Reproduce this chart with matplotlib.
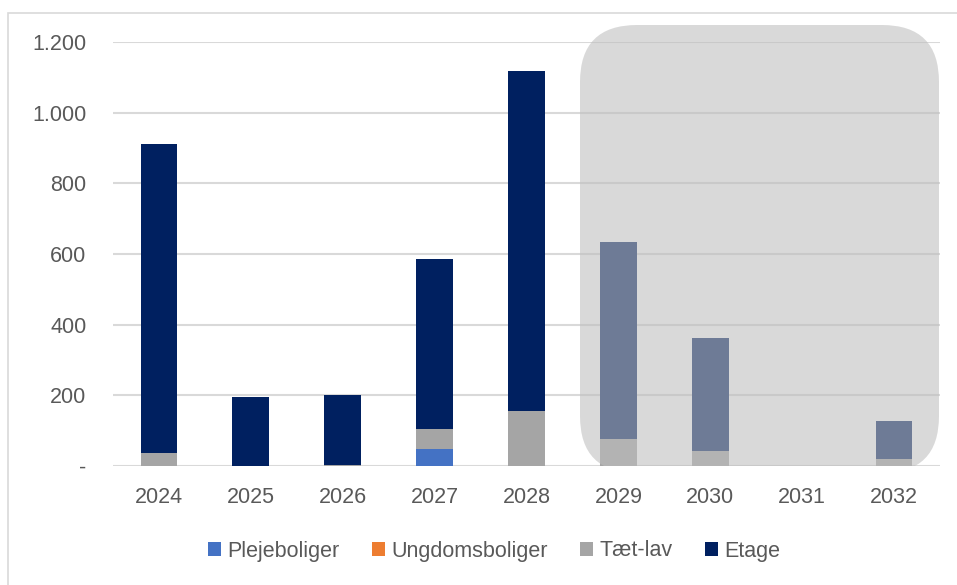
import matplotlib.pyplot as plt
import numpy as np
from matplotlib.patches import FancyBboxPatch, Rectangle
from matplotlib.transforms import IdentityTransform, Bbox

years = ["2024", "2025", "2026", "2027", "2028", "2029", "2030", "2031", "2032"]
pleje = [0, 0, 0, 47, 0, 0, 0, 0, 0]
ungdom = [0, 0, 0, 0, 0, 0, 0, 0, 0]
taet = [37, 0, 3, 57, 156, 76, 43, 0, 19]
etage = [873, 195, 197, 481, 961, 558, 319, 0, 107]

yticks = [0, 200, 400, 600, 800, 1000, 1200]
ylabels = ["-", "200", "400", "600", "800", "1.000", "1.200"]

plt.rcParams['font.family'] = ['Liberation Sans', 'DejaVu Sans']
txt = '#595959'
W, H = 957, 585

fig = plt.figure(figsize=(W / 100, H / 100), dpi=100)
ax = fig.add_axes([113 / W, (H - 466) / H, 827 / W, 424 / H])

x = np.arange(len(years))
bw = 0.40
b = np.zeros(len(years))
for vals, col, lab in [(pleje, '#4472C4', 'Plejeboliger'),
                       (ungdom, '#ED7D31', 'Ungdomsboliger'),
                       (taet, '#A5A5A5', 'Tæt-lav'),
                       (etage, '#002060', 'Etage')]:
    ax.bar(x, vals, bw, bottom=b, color=col, label=lab, zorder=3)
    b += np.array(vals)

ax.set_xlim(-0.5, len(years) - 0.5)
ax.set_ylim(0, 1200)
ax.set_yticks(yticks)
ax.set_yticklabels(ylabels)
ax.set_xticks(x)
ax.set_xticklabels(years)
ax.tick_params(length=0, labelsize=15.5, labelcolor=txt)
ax.tick_params(axis='y', pad=19)
ax.tick_params(axis='x', pad=15)
ax.grid(axis='y', color='#D9D9D9', lw=1.5, zorder=0)
for s in ax.spines.values():
    s.set_visible(False)

# afrundet grå felt over de sidste år
box = FancyBboxPatch((580, H - 473), 359, 448, boxstyle="round,pad=0,rounding_size=57",
                     transform=IdentityTransform(), facecolor=(190/255, 190/255, 190/255),
                     alpha=0.58, edgecolor='none', zorder=5)
box.set_clip_box(Bbox([[0, H - 466], [W, H]]))
fig.add_artist(box)

# ramme
frame = Rectangle((8, -10), W + 20, H - 13 + 10, transform=IdentityTransform(),
                  fill=False, edgecolor='#D9D9D9', lw=1.2, zorder=6)
fig.add_artist(frame)

handles, labels = ax.get_legend_handles_labels()
fig.legend(handles, labels, loc='center', bbox_to_anchor=(494 / W, 1 - 551 / H), ncol=4,
           frameon=False, fontsize=15.5, labelcolor=txt, handlelength=0.6, handleheight=0.6,
           handletextpad=0.3, columnspacing=1.5)

fig.savefig('out.png', dpi=100)
